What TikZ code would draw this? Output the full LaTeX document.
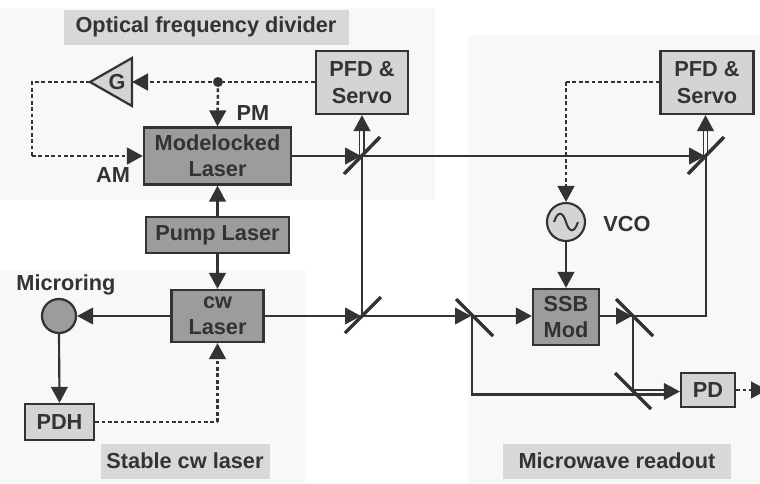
\documentclass[tikz,border=0pt]{standalone}
\usepackage{fontspec}
\setmainfont{Liberation Sans}
\usetikzlibrary{arrows.meta,shapes.geometric,calc}
\definecolor{ink}{HTML}{333333}
\definecolor{lbox}{HTML}{D4D4D4}
\definecolor{dbox}{HTML}{9C9C9C}
\definecolor{panel}{HTML}{F8F8F8}
\definecolor{title}{HTML}{D8D8D8}
\tikzset{
  x=0.75pt,y=-0.75pt,
  every node/.style={font=\bfseries\fontsize{16.3}{19.8}\selectfont,text=ink,align=center,inner sep=0pt},
  lightbox/.style={draw=ink,line width=1.7pt,fill=lbox,anchor=center},
  darkbox/.style={draw=ink,line width=1.7pt,fill=dbox,anchor=center},
  titlebox/.style={fill=title,anchor=center},
  conn/.style={draw=ink,line width=1.6pt},
  arrowed/.style={conn,-{Triangle[length=12pt,width=12.5pt]}},
  dotconn/.style={draw=ink,line width=1.9pt,dash pattern=on 2.8pt off 2pt},
  dotarrow/.style={dotconn,-{Triangle[length=12pt,width=12.5pt]}},
  mirror/.style={draw=ink,line width=2.6pt},
  panelbg/.style={fill=panel,draw=none},
}
\begin{document}
\begin{tikzpicture}
\useasboundingbox (0,0) rectangle (760,483);
\fill[white] (0,0) rectangle (760,483);
% background panels
\fill[panelbg] (0,8) rectangle (435,200);
\fill[panelbg] (0,270) rectangle (305,483);
\fill[panelbg] (468,35) rectangle (760,483);
% titles
\node[titlebox,minimum width=285*0.75pt,minimum height=35*0.75pt] (t1) at (206,27) {Optical frequency divider};
\node[titlebox,minimum width=169*0.75pt,minimum height=35*0.75pt] (t2) at (185,461) {Stable cw laser};
\node[titlebox,minimum width=228*0.75pt,minimum height=35*0.75pt] (t3) at (617,461) {Microwave readout};
% boxes
\node[lightbox,minimum width=92*0.75pt,minimum height=63*0.75pt] (pfda) at (362,82.5) {PFD \&\\Servo};
\node[lightbox,minimum width=93*0.75pt,minimum height=63*0.75pt] (pfdb) at (707,82.5) {PFD \&\\Servo};
\node[darkbox,minimum width=147*0.75pt,minimum height=57*0.75pt] (ml) at (217.5,156) {Modelocked\\Laser};
\node[darkbox,minimum width=143*0.75pt,minimum height=36*0.75pt] (pump) at (217.5,235) {Pump Laser};
\node[darkbox,minimum width=92*0.75pt,minimum height=52*0.75pt] (cw) at (217.5,316) {cw\\Laser};
\node[lightbox,minimum width=69*0.75pt,minimum height=36*0.75pt] (pdh) at (59.5,422) {PDH};
\node[darkbox,minimum width=66*0.75pt,minimum height=56*0.75pt] (ssb) at (566,317) {SSB\\Mod};
\node[lightbox,minimum width=54*0.75pt,minimum height=34*0.75pt] (pd) at (708,390) {PD};
% microring, VCO, gain
\node[circle,draw=ink,line width=1.7pt,fill=dbox,minimum size=34*0.75pt] (ring) at (59,316) {};
\node[circle,draw=ink,line width=1.6pt,fill=lbox,minimum size=38*0.75pt] (vco) at (566,222) {};
\draw[ink,line width=1.5pt] (554,222) .. controls (558,210) and (563,212) .. (566,222) .. controls (569,232) and (574,234) .. (578,222);
\coordinate (ga) at (90,82);
\coordinate (gb) at (132,58);
\coordinate (gc) at (132,106);
\draw[ink,line width=1.7pt,fill=lbox,line join=miter] (ga) -- (gb) -- (gc) -- cycle;
\node (g) at (117,82) {G};
% labels
\node (lpm) at (253,113) {PM};
\node (lam) at (113,175) {AM};
\node (lmr) at (66,285) {Microring};
\node (lvco) at (627,224) {VCO};
% junctions
\coordinate (d) at (218,82);
\coordinate (s1) at (362,156);
\coordinate (s2) at (706,156);
\coordinate (s3) at (362,316);
\coordinate (s4) at (472,316);
\coordinate (s5) at (633,316);
\coordinate (s6) at (633,390);
\coordinate (am1) at (32,82);
\coordinate (am2) at (32,156);
\coordinate (v1) at (566,82);
\coordinate (pdhc) at (217.5,422);
\coordinate (rt) at (706,316);
\coordinate (bl) at (472,394.5);
\coordinate (out) at (767,390);
% solid connectors
\draw[arrowed] (ml.east) -- ($(s1)+(-1,0)$);
\draw[arrowed] (s1) -- ($(s2)+(-1,0)$);
\draw[arrowed] (pump.north) -- (ml.south);
\draw[arrowed] (pump.south) -- (cw.north);
\draw[arrowed] (cw.west) -- (ring.east);
\draw[arrowed] (ring.south) -- (pdh.north);
\draw[arrowed] (cw.east) -- ($(s3)+(-1,0)$);
\draw[conn] (s3) -- (s1);
\draw[arrowed] (s3) -- ($(s4)+(-1,0)$);
\draw[arrowed] (s4) -- (ssb.west |- s4);
\draw[arrowed] (ssb.east |- s5) -- ($(s5)+(-1,0)$);
\draw[conn] (s5) -- (rt) -- (s2);
\draw[conn] (s5) -- (s6);
\draw[arrowed] (vco.south) -- (ssb.north);
\draw[conn] (s4) -- (bl) -- ($(pd.west)+(-10,4.5)$);
\draw[conn,line width=1.2pt] (s6) -- ($(pd.west)+(-10,0)$);
\draw[arrowed] ($(pd.west)+(-16,1.5)$) -- ($(pd.west)+(0,1.5)$);
\draw[conn,line width=1.2pt] ($(s1)+(-2.5,0)$) -- ($(pfda.south)+(-2.5,6)$);
\draw[conn,line width=1.2pt] ($(s1)+(2,0)$) -- ($(pfda.south)+(2,6)$);
\draw[arrowed] ($(pfda.south)+(0,15)$) -- (pfda.south);
\draw[conn,line width=1.2pt] ($(s2)+(-2.5,0)$) -- ($(pfdb.south)+(-3.5,6)$);
\draw[conn,line width=1.2pt] ($(s2)+(1.5,0)$) -- ($(pfdb.south)+(.5,6)$);
\draw[arrowed] ($(pfdb.south)+(-1.5,15)$) -- ($(pfdb.south)+(-1.5,0)$);
% mirrors
\draw[mirror] ($(s1)+(-18,18)$) -- ($(s1)+(18,-19)$);
\draw[mirror] ($(s2)+(-18,18)$) -- ($(s2)+(18,-19)$);
\draw[mirror] ($(s3)+(-17,17)$) -- ($(s3)+(19,-19)$);
\draw[mirror] ($(s4)+(-16,-17)$) -- ($(s4)+(21,20)$);
\draw[mirror] ($(s5)+(-17,-17)$) -- ($(s5)+(20,20)$);
\draw[mirror] ($(s6)+(-18,-17)$) -- ($(s6)+(18,19)$);
% dotted connectors
\draw[dotconn] (pfda.west |- d) -- (d);
\draw[dotarrow] (d) -- (gb |- d);
\draw[dotarrow] (d) -- (ml.north);
\draw[dotconn] (ga) -- (am1) -- (am2);
\draw[dotarrow] (am2) -- (ml.west);
\draw[dotconn] (pfdb.west |- v1) -- (v1);
\draw[dotarrow] (v1) -- (vco.north);
\draw[dotconn] (pdh.east) -- (pdhc);
\draw[dotarrow] (pdhc) -- (cw.south);
\draw[dotarrow] (pd.east) -- (out);
\fill[ink] (d) circle (5);
\end{tikzpicture}
\end{document}
